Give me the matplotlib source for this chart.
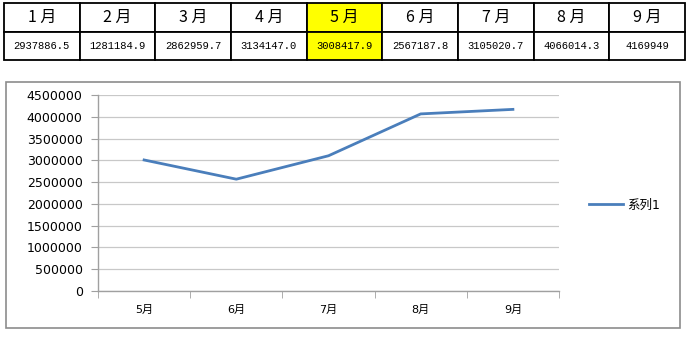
import matplotlib
matplotlib.use('Agg')
import matplotlib.pyplot as plt
from matplotlib.patches import Rectangle

plt.rcParams['font.family'] = ['DejaVu Sans', 'Noto Sans CJK SC']

# data
months = ['1 月', '2 月', '3 月', '4 月', '5 月', '6 月', '7 月', '8 月', '9 月']
month_values = ['2937886.5', '1281184.9', '2862959.7', '3134147.0', '3008417.9',
                '2567187.8', '3105020.7', '4066014.3', '4169949']
highlight_col = 4

chart_labels = ['5月', '6月', '7月', '8月', '9月']
chart_values = [3008417.9, 2567187.8, 3105020.7, 4066014.3, 4169949]
series_name = '系列1'

W, H = 690, 349
fig = plt.figure(figsize=(W / 100, H / 100), dpi=100)

def fx(px):
    return px / W

def fy(py):
    return 1 - py / H

# Step 1: table on top
tax = fig.add_axes([fx(4), fy(60), fx(681), 57 / H])
tax.axis('off')
tbl = tax.table(cellText=[months, month_values], bbox=[0, 0, 1, 1], cellLoc='center')
tbl.auto_set_font_size(False)
for (r, c), cell in tbl.get_celld().items():
    cell.set_linewidth(1.3)
    cell.set_edgecolor('black')
    if c == highlight_col:
        cell.set_facecolor('#ffff00')
    t = cell.get_text()
    if r == 0:
        t.set_fontsize(11.5)
        t.set_family(['Noto Sans CJK SC'])
    else:
        t.set_fontsize(7.6)
        t.set_family(['Liberation Mono'])

# Step 2: chart frame
fig.patches.append(Rectangle((fx(6), fy(328)), fx(674), (328 - 82) / H,
                             transform=fig.transFigure, fill=False,
                             edgecolor='#8c8c8c', linewidth=1.2))

# Step 3: line chart
ax = fig.add_axes([fx(98), fy(291), fx(461), (291 - 95) / H])
x = range(len(chart_labels))
ax.plot(x, chart_values, color='#4a7ebb', linewidth=2, label=series_name)
ax.set_xlim(-0.5, len(chart_labels) - 0.5)
ax.set_ylim(0, 4500000)
ax.set_yticks(range(0, 4500001, 500000))
ax.set_yticklabels([str(v) for v in range(0, 4500001, 500000)], fontsize=9)
ax.set_xticks(list(x))
ax.set_xticklabels(chart_labels, fontsize=8)
ax.set_xticks([i - 0.5 for i in range(len(chart_labels) + 1)], minor=True)
ax.tick_params(axis='x', which='major', length=0, pad=10)
ax.tick_params(axis='x', which='minor', length=5, color='#a0a0a0', direction='out')
ax.tick_params(axis='y', length=5, color='#a0a0a0', pad=6)
ax.grid(axis='y', color='#c8c8c8', linewidth=0.9)
ax.set_axisbelow(True)
for s in ['top', 'right']:
    ax.spines[s].set_visible(False)
for s in ['left', 'bottom']:
    ax.spines[s].set_color('#a0a0a0')
    ax.spines[s].set_linewidth(1)

ax.legend(loc='center left', bbox_to_anchor=(fx(578), fy(205)),
          bbox_transform=fig.transFigure, frameon=False, fontsize=9,
          handlelength=2.7, handletextpad=0.3)

fig.savefig('out.png', dpi=100)
